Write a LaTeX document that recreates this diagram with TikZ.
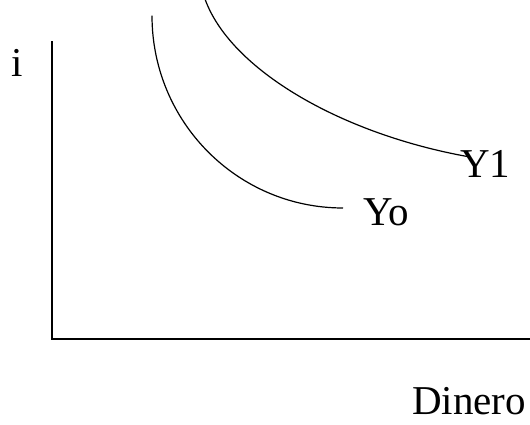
\documentclass[tikz,border=0pt]{standalone}
\usepackage{fontspec}
\setmainfont{Liberation Serif}
\begin{document}
\begin{tikzpicture}[x=1pt,y=1pt,
  axis/.style={line width=1.4pt,line cap=rect},
  curve/.style={line width=1.2pt},
  lbl/.style={anchor=base west,inner sep=0pt,font=\fontsize{41}{41}\selectfont}]
\useasboundingbox (0,0) rectangle (530,424);
% axes
\coordinate (top) at (52,382);
\coordinate (orig) at (52,85);
\coordinate (right) at (531,85);
\draw[axis] (top) -- (orig) -- (right);
% labels
\node[lbl] (i) at (11,347) {i};
\node[lbl] (din) at (412,10) {Dinero};
\node[lbl] (yo) at (363,199) {Yo};
\node[lbl] (y1) at (460,247) {Y1};
% curves
\coordinate (y0s) at (152,408.3);
\coordinate (y0e) at (343,216);
\draw[curve] (y0s) .. controls (152,302) and (237.5,216) .. (y0e);
\coordinate (y1s) at (205,425);
\coordinate (y1e) at (470,267);
\draw[curve] (y1s) .. controls (230,355) and (340,290) .. (y1e);
\end{tikzpicture}
\end{document}
